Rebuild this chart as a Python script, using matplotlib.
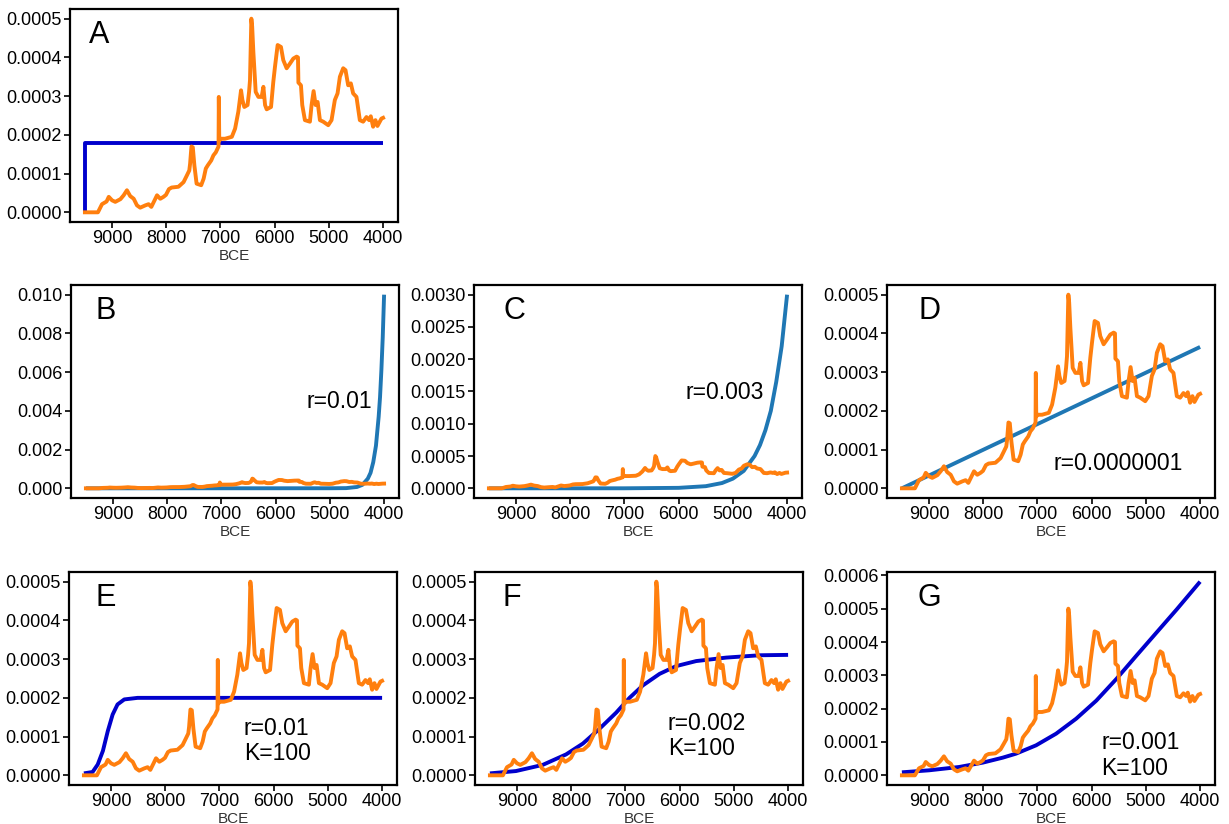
import matplotlib
matplotlib.use("Agg")
import matplotlib.pyplot as plt
from matplotlib.ticker import MultipleLocator, FormatStrFormatter

plt.rcParams['font.family'] = ['Liberation Sans', 'DejaVu Sans']

# observed SPD (orange), same in every panel
spd_years = [9500, 9260, 9185, 9100, 9060, 9000, 8940, 8845, 8785, 8725, 8665, 8600,
             8540, 8480, 8385, 8325, 8275, 8215, 8170, 8110, 8050, 8005, 7950, 7900,
             7775, 7680, 7620, 7575, 7560, 7535, 7510, 7480, 7440, 7355, 7310, 7270,
             7235, 7170, 7130, 7085, 7035, 7030, 7022, 7000, 6915, 6790, 6730, 6670,
             6620, 6595, 6560, 6500, 6472, 6455, 6430, 6415, 6393, 6350, 6300, 6240,
             6208, 6177, 6147, 6067, 6025, 5994, 5945, 5884, 5841, 5779, 5718, 5656,
             5595, 5570, 5562, 5515, 5491, 5442, 5350, 5319, 5282, 5245, 5208, 5165,
             5104, 5012, 4951, 4890, 4840, 4797, 4736, 4693, 4644, 4595, 4552, 4491,
             4429, 4368, 4307, 4258, 4227, 4184, 4141, 4104, 4061, 4031, 4000]
spd_vals = [0, 0, 0.000021, 0.000028, 0.00004, 0.000031, 0.000027, 0.000034, 0.000044,
            0.000057, 0.000042, 0.000035, 0.000018, 0.000012, 0.000018, 0.000021,
            0.000014, 0.000031, 0.000044, 0.000035, 0.00004, 0.000045, 0.00006,
            0.000064, 0.000066, 0.000078, 0.000095, 0.000108, 0.000125, 0.00017,
            0.000168, 0.00012, 0.000074, 0.00007, 0.000087, 0.000113, 0.000121,
            0.000134, 0.000147, 0.000155, 0.00017, 0.000298, 0.000185, 0.00019,
            0.00019, 0.000195, 0.000216, 0.00026, 0.000315, 0.00029, 0.000272,
            0.000277, 0.000311, 0.000341, 0.0005, 0.00048, 0.000414, 0.000311,
            0.000298, 0.000298, 0.000324, 0.000277, 0.000266, 0.000272, 0.000337,
            0.000376, 0.000432, 0.000427, 0.000393, 0.000372, 0.000384, 0.000397,
            0.000402, 0.0004, 0.000335, 0.000328, 0.000277, 0.000238, 0.000234,
            0.000277, 0.000313, 0.000277, 0.000285, 0.000238, 0.000234, 0.000225,
            0.000238, 0.00029, 0.000307, 0.00035, 0.000372, 0.000367, 0.000328,
            0.000333, 0.000307, 0.000298, 0.000238, 0.000234, 0.000246, 0.000238,
            0.000248, 0.000221, 0.000238, 0.000223, 0.000234, 0.000242, 0.000244]

# model curves (blue)
a_years = [9500, 9500, 4000]
a_vals = [0, 0.00018, 0.00018]

b_years = [9500, 5000, 4700, 4500, 4400, 4300, 4250, 4200, 4150, 4100, 4075, 4050, 4025, 4000]
b_vals = [0, 0.000003, 0.00001, 0.00007, 0.00018, 0.0005, 0.0008, 0.00135, 0.0022,
          0.0037, 0.0047, 0.0061, 0.0078, 0.010]

c_years = [9500, 7000, 6000, 5500, 5200, 5000, 4800, 4600, 4500, 4400, 4300, 4200,
           4100, 4050, 4000]
c_vals = [0, 0.0000004, 0.0000074, 0.000033, 0.000082, 0.00015, 0.00027, 0.0005,
          0.00067, 0.0009, 0.0012, 0.00165, 0.0022, 0.0026, 0.003]

d_years = [9500, 4000]
d_vals = [0, 0.000365]

e_years = [9500, 9340, 9245, 9150, 9060, 8970, 8880, 8755, 8510, 4000]
e_vals = [0.000005, 0.0000086, 0.000028, 0.000063, 0.000114, 0.000157, 0.000183,
          0.000196, 0.0002, 0.0002]

f_years = [9500, 9020, 8525, 8095, 7785, 7480, 7170, 6925, 6680, 6370, 6065, 5695,
           5140, 4525, 4000]
f_vals = [0.000005, 0.000011, 0.000027, 0.000054, 0.000082, 0.00012, 0.000162,
          0.0002, 0.000232, 0.000262, 0.000282, 0.000295, 0.000304, 0.00031, 0.000311]

g_years = [9500, 9000, 8445, 8010, 7640, 7395, 7025, 6655, 6285, 5915, 5545, 5175,
           4800, 4430, 4000]
g_vals = [0.000009, 0.000015, 0.000025, 0.000038, 0.000053, 0.000065, 0.00009,
          0.000125, 0.00017, 0.000224, 0.000289, 0.000359, 0.000429, 0.000498, 0.000581]

letters = ['A', 'B', 'C', 'D', 'E', 'F', 'G']
models = [(a_years, a_vals), (b_years, b_vals), (c_years, c_vals), (d_years, d_vals),
          (e_years, e_vals), (f_years, f_vals), (g_years, g_vals)]
labels = [None, 'r=0.01', 'r=0.003', 'r=0.0000001',
          'r=0.01\nK=100', 'r=0.002\nK=100', 'r=0.001\nK=100']

dark_blue = '#0000CC'
mid_blue = '#1F77B4'
orange = '#FF7F0E'
colors = [dark_blue, mid_blue, mid_blue, mid_blue, dark_blue, dark_blue, dark_blue]
ysteps = [0.0001, 0.002, 0.0005, 0.0001, 0.0001, 0.0001, 0.0001]
yfmts = ['%.4f', '%.3f', '%.4f', '%.4f', '%.4f', '%.4f', '%.4f']
label_pos = [None, (5440, 0.0045), (5880, 0.00148), (6700, 0.000063),
             (6550, 0.0000886), (6220, 0.0001015), (5820, 0.00006)]
letter_x = [0.058, 0.076, 0.09, 0.095, 0.082, 0.085, 0.092]

W, H = 1229, 824
boxes = [(70, 9), (71, 285), (474, 285), (887, 285), (69, 572), (475, 572), (887, 572)]
bw, bh = 328, 213

fig = plt.figure(figsize=(W / 100, H / 100), dpi=100)

for i, letter in enumerate(letters):
    left, top = boxes[i]
    ax = fig.add_axes([left / W, 1 - (top + bh) / H, bw / W, bh / H])
    my, mv = models[i]
    ax.plot(my, mv, color=colors[i], lw=2.8, solid_capstyle='butt')
    ax.plot(spd_years, spd_vals, color=orange, lw=2.8)
    ax.invert_xaxis()
    ax.xaxis.set_major_locator(MultipleLocator(1000))
    ax.yaxis.set_major_locator(MultipleLocator(ysteps[i]))
    ax.yaxis.set_major_formatter(FormatStrFormatter(yfmts[i]))
    ax.tick_params(direction='out', length=4, width=1.2, labelsize=13,
                   colors='black', pad=2)
    for sp in ax.spines.values():
        sp.set_linewidth(1.6)
    ax.set_xlabel('BCE', fontsize=11, color='#333333', labelpad=1)
    ax.text(letter_x[i], 0.88, letter, transform=ax.transAxes, fontsize=22,
            ha='left', va='center')
    if labels[i]:
        lx, ly = label_pos[i]
        ax.text(lx, ly, labels[i], fontsize=16.5, ha='left', va='center',
                linespacing=1.15)

fig.savefig('out.png', dpi=100)
